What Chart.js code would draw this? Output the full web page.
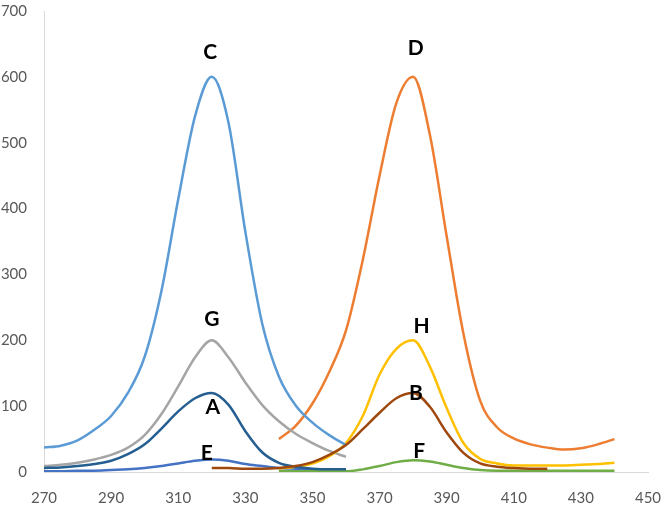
<!DOCTYPE html>
<html>
<head>
<meta charset="utf-8">
<script src="https://cdn.jsdelivr.net/npm/chart.js@4"></script>
<style>
  html, body { margin: 0; padding: 0; background: #fff; }
  #wrap { width: 662px; height: 511px; }
</style>
</head>
<body>
<div id="wrap"><canvas id="myChart"></canvas></div>
<script>
// x positions (wavelength) and values
const xLeft  = [270, 275, 280, 285, 290, 295, 300, 305, 310, 315, 320, 325, 330, 335, 340, 345, 350, 355, 360];
const xRight = [340, 345, 350, 355, 360, 365, 370, 375, 380, 385, 390, 395, 400, 405, 410, 415, 420, 425, 430, 435, 440];
const xMid   = [320, 325, 330, 335, 340, 345, 350, 355, 360, 365, 370, 375, 380, 385, 390, 395, 400, 405, 410, 415, 420];

const yC = [37, 40, 48, 64, 85, 120, 175, 275, 414, 540, 600, 530, 365, 226, 145, 101, 75, 56, 41];
const yG = [9, 11, 14, 19, 26, 37, 56, 88, 130, 174, 200, 174, 136, 102, 77, 58, 44, 32, 23];
const yA = [6, 7, 9, 12, 17, 27, 42, 66, 92, 112, 120, 102, 62, 30, 14, 8, 5, 4, 4];
const yE = [1, 1, 2, 2, 3, 4, 6, 9, 13, 17, 19, 17, 12, 9, 6, 5, 4, 3, 3];

const yD = [50, 70, 104, 152, 215, 322, 450, 560, 600, 512, 358, 210, 108, 68, 51, 42, 37, 34, 36, 42, 50];
const yH = [5, 8, 13, 24, 44, 85, 148, 187, 200, 160, 97, 44, 20, 13, 10, 10, 10, 10, 11, 12, 14];
const yF = [1, 1, 1, 1, 1, 4, 9, 15, 18, 16, 11, 6, 3, 2, 2, 2, 2, 2, 2, 2, 2];

const yB = [6, 6, 5, 5, 6, 9, 15, 26, 41, 65, 90, 112, 120, 99, 60, 29, 13, 8, 6, 5, 5];

// letters written next to the peaks (data units)
const labelNames = ['C', 'D', 'G', 'H', 'A', 'B', 'E', 'F'];
const labelX = [319.5, 380.8, 320, 382.5, 320.3, 380.8, 318.5, 381.8];
const labelY = [637, 644, 232, 221, 99, 120, 29, 31];

function pts(xs, ys) {
  return xs.map((x, i) => ({ x: x, y: ys[i] }));
}

function line(label, xs, ys, color) {
  return {
    label: label,
    data: pts(xs, ys),
    borderColor: color,
    backgroundColor: color,
    borderWidth: 2.5,
    pointRadius: 0,
    fill: false,
    cubicInterpolationMode: 'monotone'
  };
}

// peak letters
const peakLabels = {
  id: 'peakLabels',
  afterDatasetsDraw(chart) {
    const ctx = chart.ctx;
    const sx = chart.scales.x;
    const sy = chart.scales.y;
    ctx.save();
    ctx.font = 'bold 21px Lato, "Liberation Sans", sans-serif';
    ctx.fillStyle = '#000';
    ctx.textAlign = 'center';
    ctx.textBaseline = 'middle';
    labelNames.forEach((name, i) => {
      ctx.fillText(name, sx.getPixelForValue(labelX[i]), sy.getPixelForValue(labelY[i]));
    });
    ctx.restore();
  }
};

const ctx = document.getElementById('myChart').getContext('2d');
new Chart(ctx, {
  type: 'line',
  data: {
    // first dataset is drawn on top
    datasets: [
      line('B', xMid, yB, '#9E480E'),
      line('A', xLeft, yA, '#255E91'),
      line('F', xRight, yF, '#70AD47'),
      line('C', xLeft, yC, '#5B9BD5'),
      line('H', xRight, yH, '#FFC000'),
      line('G', xLeft, yG, '#A5A5A5'),
      line('D', xRight, yD, '#ED7D31'),
      line('E', xLeft, yE, '#4472C4')
    ]
  },
  options: {
    responsive: true,
    maintainAspectRatio: false,
    animation: false,
    layout: {
      padding: 0
    },
    plugins: {
      legend: { display: false },
      title: { display: false },
      tooltip: { enabled: false }
    },
    scales: {
      x: {
        type: 'linear',
        min: 270,
        max: 450,
        grid: { display: false, drawTicks: false },
        border: { display: true, color: '#d9d9d9', width: 1 },
        ticks: {
          stepSize: 20,
          padding: 17,
          color: '#595959',
          font: { family: 'Lato', size: 15 },
          maxRotation: 0
        },
        afterFit(scale) {
          scale.height = 39;
          scale.paddingLeft = 0;
          scale.paddingRight = 14;
        }
      },
      y: {
        min: 0,
        max: 700,
        grid: { display: false, drawTicks: false },
        border: { display: true, color: '#d9d9d9', width: 1 },
        ticks: {
          stepSize: 100,
          padding: 17,
          color: '#595959',
          font: { family: 'Lato', size: 15 }
        },
        afterFit(scale) {
          scale.width = 44;
          scale.paddingTop = 11;
          scale.paddingBottom = 0;
        }
      }
    }
  },
  plugins: [peakLabels]
});
</script>
</body>
</html>
